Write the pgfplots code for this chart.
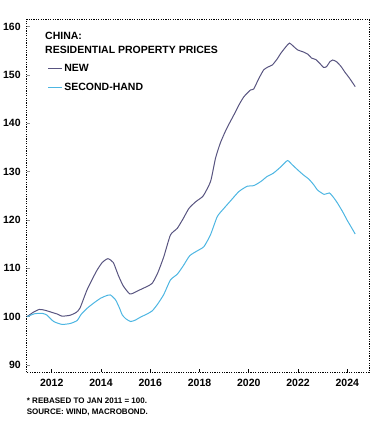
\documentclass[border=0pt]{standalone}
\usepackage{pgfplots}
\pgfplotsset{compat=1.18}
\usepackage{fontspec}
\setmainfont{Liberation Sans}
\definecolor{newc}{RGB}{88,84,128}
\definecolor{secc}{RGB}{77,182,226}
\definecolor{tickgray}{RGB}{150,150,150}
\begin{document}
\bfseries
\begin{tikzpicture}
\useasboundingbox (0,0) rectangle (377bp,423bp);
\begin{axis}[
  at={(26.7bp,50.7bp)}, anchor=south west,
  scale only axis, width=342.3bp, height=353.3bp,
  xmin=2010.985, xmax=2024.88, ymin=88.49, ymax=161.59,
  xtick={2012,2014,2016,2018,2020,2022,2024},
  ytick={90,100,110,120,130,140,150,160},
  /pgf/number format/1000 sep={},
  /pgf/number format/assume math mode=true,
  tick align=inside, xtick pos=bottom, ytick pos=left,
  major tick length=3.5bp,
  xtick style={black, line width=0.6bp},
  ytick style={tickgray, line width=0.6bp},
  ticklabel style={font=\fontsize{10.5bp}{12bp}\selectfont\bfseries, text=black},
  yticklabel style={xshift=-2.5bp},
  xticklabel style={yshift=-3bp},
  axis line style={black, line width=0.7bp, dash pattern=on 1.2bp off 1.2bp},
  legend style={at={(rel axis cs:0.0613,0.876)}, anchor=north west, draw=none, fill=none,
    font=\fontsize{10.5bp}{12bp}\selectfont\bfseries, inner sep=0pt, row sep=6.5bp,
    nodes={inner sep=1.5bp}},
  legend cell align=left,
  legend image code/.code={\draw[#1] (0bp,0bp) -- (14bp,0bp);},
  clip=false,
]
\addplot[newc, line width=1bp, smooth, tension=0.35] coordinates {
(2011.0,100.0) (2011.25,100.9) (2011.5,101.5) (2011.75,101.3) (2012.0,100.9) (2012.25,100.5)
(2012.42,100.1) (2012.75,100.3) (2013.0,100.9) (2013.15,101.8) (2013.43,105.5) (2013.65,107.8)
(2013.85,109.7) (2014.05,111.2) (2014.28,112.0) (2014.5,111.2) (2014.7,108.6) (2014.9,106.4)
(2015.17,104.7) (2015.4,105.1) (2015.6,105.6) (2015.85,106.2) (2016.08,106.9) (2016.3,109.0)
(2016.55,112.4) (2016.82,116.9) (2017.1,118.3) (2017.35,120.4) (2017.57,122.4) (2017.85,123.8)
(2018.15,125.0) (2018.45,128.0) (2018.65,132.8) (2018.85,136.0) (2019.1,138.9) (2019.4,141.8)
(2019.6,143.8) (2019.8,145.5) (2020.07,146.9) (2020.2,147.1) (2020.4,149.2) (2020.61,151.1)
(2020.8,151.7) (2020.96,152.1) (2021.15,153.3) (2021.3,154.5) (2021.5,155.8) (2021.65,156.6)
(2021.8,156.0) (2021.98,155.2) (2022.2,154.8) (2022.4,154.3) (2022.55,153.5) (2022.72,153.2)
(2022.9,152.3) (2023.03,151.6) (2023.15,151.7) (2023.3,152.8) (2023.4,153.1) (2023.55,152.8)
(2023.74,151.8) (2023.9,150.6) (2024.08,149.4) (2024.32,147.6)
};
\addlegendentry{NEW}
\addplot[secc, line width=1bp, smooth, tension=0.35] coordinates {
(2011.0,100.0) (2011.3,100.6) (2011.6,100.7) (2011.8,100.35) (2012.08,99.0) (2012.42,98.4)
(2012.76,98.6) (2013.03,99.2) (2013.2,100.5) (2013.43,101.7) (2013.7,102.8) (2013.98,103.8)
(2014.2,104.3) (2014.38,104.5) (2014.59,103.5) (2014.75,101.8) (2014.86,100.4) (2015.0,99.6)
(2015.2,99.0) (2015.4,99.3) (2015.6,99.9) (2015.85,100.5) (2016.08,101.2) (2016.3,102.6)
(2016.55,104.6) (2016.82,107.6) (2017.1,108.8) (2017.35,110.6) (2017.6,112.6) (2017.9,113.6)
(2018.18,114.5) (2018.45,117.0) (2018.72,120.7) (2018.99,122.4) (2019.3,124.2) (2019.6,125.9)
(2019.94,127.0) (2020.2,127.1) (2020.5,128.0) (2020.74,129.0) (2021.0,129.7) (2021.3,131.0)
(2021.57,132.3) (2021.75,131.5) (2021.98,130.4) (2022.2,129.4) (2022.45,128.4) (2022.65,127.2)
(2022.79,126.2) (2023.06,125.3) (2023.27,125.6) (2023.45,124.6) (2023.6,123.5) (2023.8,121.8)
(2024.0,119.9) (2024.15,118.6) (2024.32,117.1)
};
\addlegendentry{SECOND-HAND}
\node[anchor=north west, inner sep=0pt, align=left, font=\fontsize{10.5bp}{14bp}\selectfont\bfseries]
  at (rel axis cs:0.0535,0.964) {CHINA:\\RESIDENTIAL PROPERTY PRICES};
\node[anchor=north west, inner sep=0pt, align=left, font=\fontsize{8bp}{11bp}\selectfont\bfseries]
  at (rel axis cs:0,0) [yshift=-25.6bp] {* REBASED TO JAN 2011 = 100.\\SOURCE: WIND, MACROBOND.};
\end{axis}
\end{tikzpicture}
\end{document}
